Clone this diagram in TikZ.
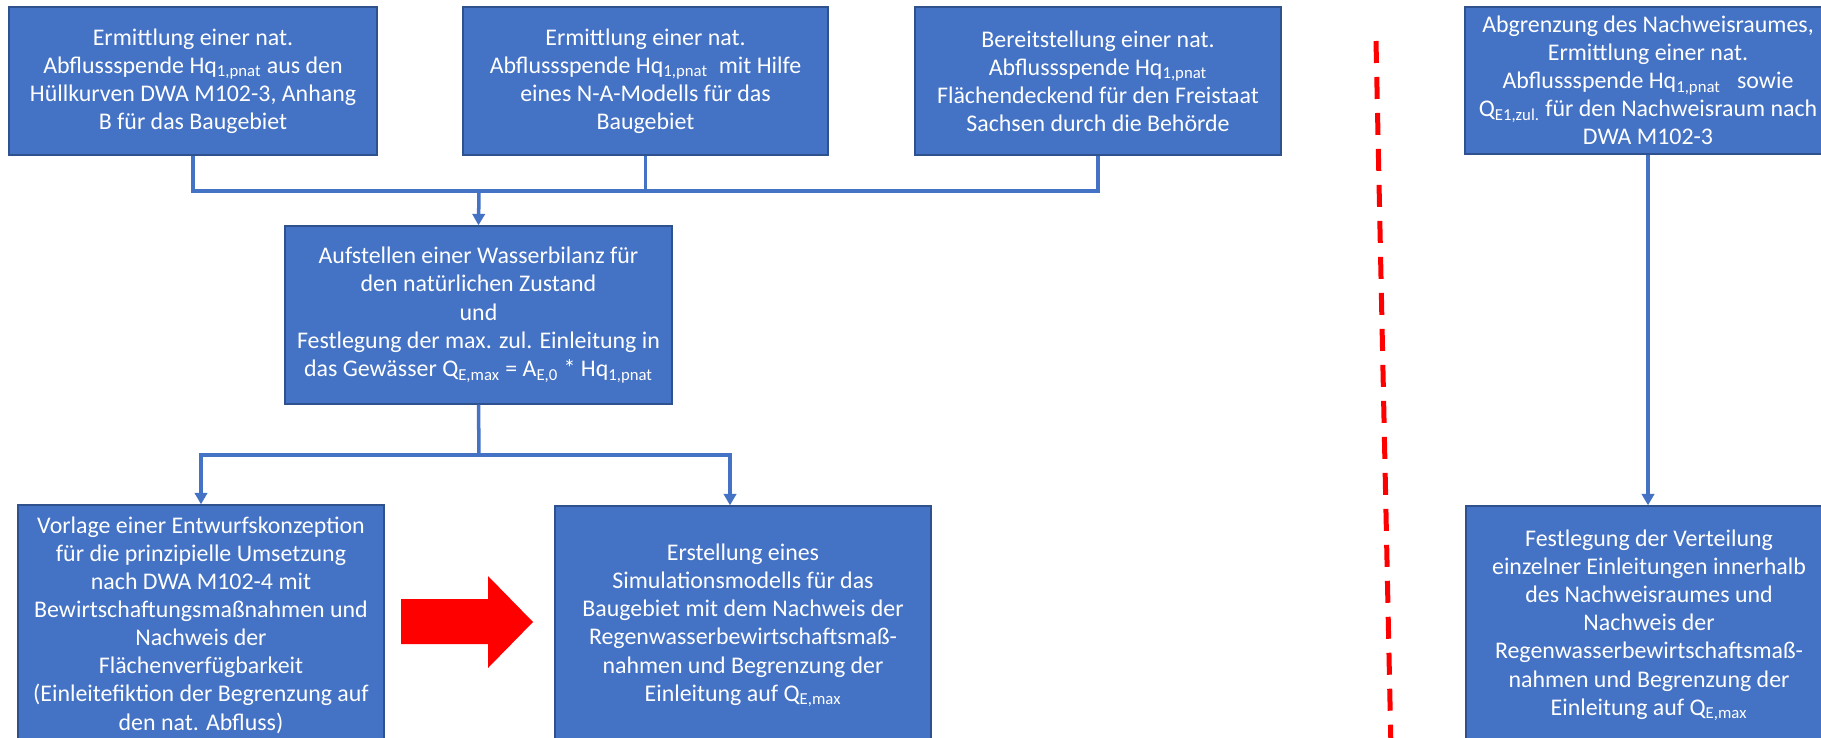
\documentclass[tikz,border=0pt]{standalone}
\usepackage{fontspec}
\setmainfont{Carlito}
\usetikzlibrary{arrows.meta}

\definecolor{boxblue}{HTML}{4472C4}
\definecolor{boxedge}{HTML}{2F528F}
\definecolor{signal}{HTML}{FF0000}

\begin{document}
\begin{tikzpicture}[x = 0.02cm, y = -0.02cm]
  \tikzset{
      > = {Triangle[length = 6.5pt, width = 7pt]},
      box/.style = {
          shape = rectangle,
          fill = boxblue,
          draw = boxedge,
          line width = 0.8pt,
          text = white,
          align = center,
          inner sep = 0pt,
          font = \fontsize{13.6}{16}\selectfont
      },
      link/.style = {
          draw = boxblue,
          line width = 2pt
      }
  }
  \useasboundingbox (0,0) rectangle (1821,737);
  \clip (0,0) rectangle (1821,737);

  % top row
  \node[box, minimum width = 7.36cm, minimum height = 2.96cm] (hk) at (193,81)
      {Ermittlung einer nat.\\ Abflussspende Hq\textsubscript{1,pnat} aus den\\ Hüllkurven DWA M102-3, Anhang\\ B für das Baugebiet};
  \node[box, minimum width = 7.3cm, minimum height = 2.96cm] (na) at (645.5,81)
      {Ermittlung einer nat.\\ Abflussspende Hq\textsubscript{1,pnat}~ mit Hilfe\\ eines N-A-Modells für das\\ Baugebiet};
  \node[box, minimum width = 7.32cm, minimum height = 2.96cm] (sn) at (1098,81)
      {Bereitstellung einer nat.\\ Abflussspende Hq\textsubscript{1,pnat}\\ Flächendeckend für den Freistaat\\ Sachsen durch die Behörde};
  \node[box, minimum width = 7.32cm, minimum height = 2.94cm] (nr) at (1648,80.5)
      {Abgrenzung des Nachweisraumes,\\ Ermittlung einer nat.\\ Abflussspende Hq\textsubscript{1,pnat}~~ sowie\\ Q\textsubscript{E1,zul.} für den Nachweisraum nach\\ DWA M102-3};

  % balance
  \node[box, minimum width = 7.74cm, minimum height = 3.56cm] (wb) at (478.5,315)
      {Aufstellen einer Wasserbilanz für\\ den natürlichen Zustand\\ und\\ Festlegung der max. zul. Einleitung in\\ das Gewässer Q\textsubscript{E,max} = A\textsubscript{E,0} * Hq\textsubscript{1,pnat}};

  % bottom row
  \node[box, minimum width = 7.32cm, minimum height = 4.8cm] (ek) at (201,625)
      {Vorlage einer Entwurfskonzeption\\ für die prinzipielle Umsetzung\\ nach DWA M102-4 mit\\ Bewirtschaftungsmaßnahmen und\\ Nachweis der\\ Flächenverfügbarkeit\\ (Einleitefiktion der Begrenzung auf\\ den nat. Abfluss)};
  \node[box, minimum width = 7.52cm, minimum height = 4.78cm] (sm) at (743,625.5)
      {Erstellung eines\\ Simulationsmodells für das\\ Baugebiet mit dem Nachweis der\\ Regenwasserbewirtschaftsmaß-\\ nahmen und Begrenzung der\\ Einleitung auf Q\textsubscript{E,max}};
  \node[box, minimum width = 7.32cm, minimum height = 4.78cm] (vt) at (1649,625.5)
      {Festlegung der Verteilung\\ einzelner Einleitungen innerhalb\\ des Nachweisraumes und\\ Nachweis der\\ Regenwasserbewirtschaftsmaß-\\ nahmen und Begrenzung der\\ Einleitung auf Q\textsubscript{E,max}};

  \coordinate (j1) at (479,191);
  \coordinate (j2) at (479,455);
  \coordinate (s6) at (730,455);

  % connectors
  \draw[link] (hk.south) |- (j1) -| (sn.south);
  \draw[link] (na.south) -- (na.south |- j1);
  \draw[link, ->] (j1) -- (wb.north);
  \draw[link] (wb.south) -- (j2);
  \draw[link, ->] (j2) -| (ek.north);
  \draw[link, ->] (j2) -- (s6) -- (s6 |- sm.north);
  \draw[link, ->] (nr.south) -- (nr.south |- vt.north);

  % divider and hint arrow
  \draw[signal, line width = 0.1cm, dash pattern = on 0.44cm off 0.28cm]
      (1376,41) -- (1391,750);
  \fill[signal] (401,599) -- (488,599) -- (488,576) -- (533,622)
      -- (488,668) -- (488,644) -- (401,644) -- cycle;
\end{tikzpicture}
\end{document}
